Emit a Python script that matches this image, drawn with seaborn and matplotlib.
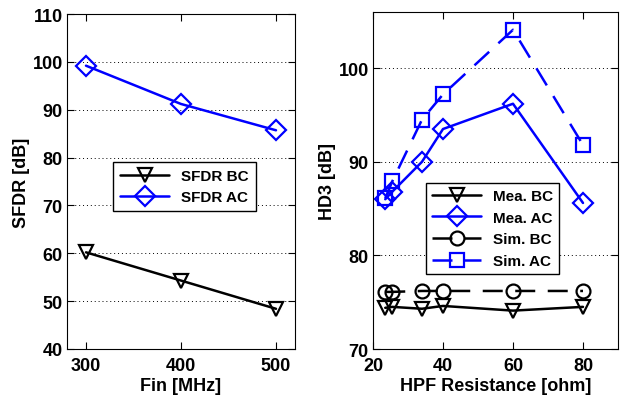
import numpy as np
import pandas as pd
import matplotlib
matplotlib.use("Agg")
import matplotlib.pyplot as plt
import seaborn as sns

# --- data ---
fin = [300, 400, 500]
sfdr_bc = [60.2, 54.3, 48.4]
sfdr_ac = [99.2, 91.2, 85.7]

hpf_r = [23.5, 25.5, 34, 40, 60, 80]
mea_bc = [74.4, 74.5, 74.3, 74.6, 74.1, 74.5]
mea_ac = [86.0, 86.8, 90.0, 93.5, 96.2, 85.6]
sim_bc = [76.1, 76.1, 76.2, 76.2, 76.2, 76.2]
sim_ac = [86.1, 87.9, 94.5, 97.2, 104.1, 91.8]

sns.set_style("ticks")
plt.rcParams['font.family'] = ['Liberation Sans', 'DejaVu Sans']
plt.rcParams['font.weight'] = 'bold'
plt.rcParams['axes.labelweight'] = 'bold'
plt.rcParams['text.color'] = 'black'
plt.rcParams['axes.labelcolor'] = 'black'
plt.rcParams['xtick.color'] = 'black'
plt.rcParams['ytick.color'] = 'black'

W, H = 621, 402
fig = plt.figure(figsize=(W / 100, H / 100), dpi=100)
ax1 = fig.add_axes([67 / W, 1 - 350 / H, (295 - 67) / W, (350 - 15) / H])
ax2 = fig.add_axes([373 / W, 1 - 350 / H, (618 - 373) / W, (350 - 13) / H])

blue = '#0000ff'
mk = dict(markerfacecolor='none', markersize=10, markeredgewidth=1.6, linewidth=1.8)
dash = (0, (8, 5))

df1 = pd.DataFrame({'fin': fin, 'bc': sfdr_bc, 'ac': sfdr_ac})
sns.lineplot(data=df1, x='fin', y='bc', ax=ax1, color='black', marker='v',
             markeredgecolor='black', label='SFDR BC', **mk)
sns.lineplot(data=df1, x='fin', y='ac', ax=ax1, color=blue, marker='D',
             markeredgecolor=blue, label='SFDR AC', **mk)
ax1.set_xlim(280, 520)
ax1.set_ylim(40, 110)
ax1.set_xticks([300, 400, 500])
ax1.set_yticks(np.arange(40, 111, 10))
ax1.set_xlabel('Fin [MHz]', fontsize=13, labelpad=2)
ax1.set_ylabel('SFDR [dB]', fontsize=13, labelpad=2)
ax1.legend(loc='upper left', bbox_to_anchor=(0.17, 0.58), fontsize=11,
           fancybox=False, edgecolor='black', framealpha=1, borderpad=0.45,
           labelspacing=0.45, handlelength=3.2)

df2 = pd.DataFrame({'r': hpf_r, 'mbc': mea_bc, 'mac': mea_ac,
                    'sbc': sim_bc, 'sac': sim_ac})
sns.lineplot(data=df2, x='r', y='mbc', ax=ax2, color='black', marker='v',
             markeredgecolor='black', label='Mea. BC', **mk)
sns.lineplot(data=df2, x='r', y='mac', ax=ax2, color=blue, marker='D',
             markeredgecolor=blue, label='Mea. AC', **mk)
sns.lineplot(data=df2, x='r', y='sbc', ax=ax2, color='black', marker='o',
             markeredgecolor='black', label='Sim. BC', linestyle=dash, **mk)
sns.lineplot(data=df2, x='r', y='sac', ax=ax2, color=blue, marker='s',
             markeredgecolor=blue, label='Sim. AC', linestyle=dash, **mk)
ax2.set_xlim(20, 90)
ax2.set_ylim(70, 106)
ax2.set_xticks([20, 40, 60, 80])
ax2.set_yticks([70, 80, 90, 100])
ax2.set_xlabel('HPF Resistance [ohm]', fontsize=13, labelpad=2)
ax2.set_ylabel('HD3 [dB]', fontsize=13, labelpad=2)
ax2.legend(loc='upper left', bbox_to_anchor=(0.185, 0.515), fontsize=11,
           fancybox=False, edgecolor='black', framealpha=1, borderpad=0.4,
           labelspacing=0.5, handlelength=3.2)

for ax in (ax1, ax2):
    ax.yaxis.grid(True, linestyle=(0, (1, 3)), color='black', linewidth=0.7)
    ax.xaxis.grid(False)
    ax.tick_params(direction='in', top=True, right=True, length=5,
                   labelsize=13, width=0.8, pad=3)
    ax.tick_params(axis='x', pad=6)
    for lab in ax.get_xticklabels() + ax.get_yticklabels():
        lab.set_fontweight('bold')
    for s in ax.spines.values():
        s.set_visible(True)
        s.set_linewidth(0.8)
        s.set_color('black')

fig.savefig('out.png', dpi=100)
